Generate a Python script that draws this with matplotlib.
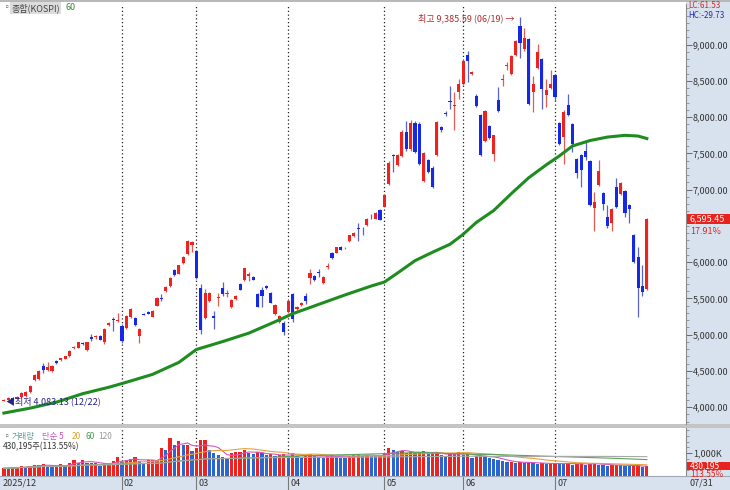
import matplotlib
matplotlib.use("Agg")
import matplotlib.pyplot as plt
from matplotlib.patches import Rectangle
from matplotlib.ticker import FuncFormatter, MultipleLocator, FixedLocator
import numpy as np
import pandas as pd

plt.rcParams['font.family'] = ['Noto Sans CJK KR', 'DejaVu Sans']

# daily candles, 2025/12/22 .. 2026/07/31
opens = [4090, 4105, 4125, 4118, 4135, 4155, 4212, 4372, 4390, 4562, 4507, 4493, 4630, 4644, 4667, 4699,
         4815, 4818, 4890, 4790, 4973, 4963, 4986, 4895, 5127, 5219, 5192,
         5123, 5092, 5237, 5229, 4986, 5288, 5315, 5247, 5397, 5507, 5603, 5671, 5887, 5840, 5991, 6106, 6233,
         6151, 5648, 5229, 5466, 5260, 5507, 5640, 5562, 5384, 5489, 5695, 5750, 5808, 5795, 5558, 5617, 5671,
         5580, 5284, 5169, 5160,
         5306, 5562, 5360, 5411, 5534, 5777, 5808, 5860, 5716, 5935, 6128, 6128, 6210, 6190, 6288, 6356, 6466,
         6475, 6517, 6630, 6599, 6722,
         6767, 7073, 7475, 7343, 7470, 7800, 7560, 7920, 7900, 7120, 7407, 7300, 7480, 7860, 8060, 8225, 8150, 8352,
         8457, 8854, 8590, 8298, 8024, 7672, 7877, 7498, 8243, 8515, 8700, 8595, 8854, 9265, 8936, 9073, 8343,
         8685, 8800, 8306, 8398,
         8580, 7918, 7726, 8170, 7910, 7429, 7475, 7530, 7393, 6750, 7069, 6950, 6630, 6539, 7041, 6936, 6982,
         6791, 6380, 6069, 5671, 5626]
highs = [4115, 4135, 4145, 4150, 4205, 4220, 4300, 4450, 4515, 4603, 4620, 4575, 4645, 4680, 4712, 4790,
         4845, 4905, 4900, 4905, 5014, 5000, 4995, 5085, 5175, 5237, 5305,
         5150, 5275, 5370, 5240, 5090, 5300, 5325, 5340, 5515, 5562, 5670, 5795, 5900, 5965, 6080, 6311, 6297,
         6165, 5699, 5630, 5595, 5329, 5580, 5730, 5617, 5490, 5545, 5710, 5925, 5867, 5805, 5570, 5658, 5680,
         5590, 5420, 5270, 5190,
         5480, 5580, 5400, 5455, 5580, 5905, 5820, 5905, 5805, 5987, 6140, 6215, 6225, 6215, 6380, 6415, 6539,
         6490, 6610, 6670, 6690, 6735,
         6940, 7390, 7498, 7495, 7820, 7950, 7960, 7950, 7930, 7520, 7430, 7320, 7950, 7880, 8080, 8435, 8343, 8525,
         8790, 8914, 8640, 8315, 8040, 8095, 7890, 7760, 8410, 8595, 8755, 8860, 9065, 9385.59, 9230, 9095, 8572,
         9005, 8815, 8525, 8645,
         8600, 7930, 8095, 8320, 7925, 7440, 7490, 7667, 7405, 6963, 7407, 6965, 6791, 6750, 7155, 7100, 6995,
         6805, 6395, 6206, 5959, 6605]
lows = [4083.13, 4095, 4105, 4110, 4125, 4145, 4200, 4360, 4380, 4466, 4495, 4485, 4595, 4635, 4660, 4690,
        4805, 4810, 4860, 4780, 4918, 4945, 4925, 4877, 5120, 5055, 5180,
        4890, 5080, 5225, 5125, 4880, 5265, 5280, 5240, 5390, 5466, 5595, 5660, 5810, 5830, 5980, 6095, 6141,
        5770, 5014, 5215, 5455, 5082, 5397, 5534, 5521, 5370, 5480, 5610, 5740, 5740, 5750, 5375, 5384, 5630,
        5435, 5275, 5160, 5000,
        5295, 5180, 5345, 5400, 5425, 5700, 5745, 5795, 5705, 5905, 6045, 6120, 6165, 6180, 6280, 6345, 6288,
        6375, 6505, 6590, 6590, 6575,
        6755, 7060, 7247, 7330, 7450, 7540, 7540, 7500, 7340, 7100, 7230, 7020, 7460, 7800, 8020, 8115, 7818, 8250,
        8445, 8480, 8580, 8135, 7465, 7660, 7700, 7390, 8070, 8435, 8645, 8580, 8840, 8822, 8920, 8165, 8069,
        8670, 8115, 8137, 8385,
        8230, 7620, 7360, 8010, 7520, 7155, 7041, 7407, 6775, 6425, 7055, 6726, 6470, 6425, 6750, 6920, 6630,
        6539, 5990, 5237, 5534, 5610]
closes = [4100, 4125, 4118, 4140, 4195, 4210, 4292, 4438, 4505, 4507, 4552, 4562, 4603, 4671, 4703, 4781,
          4836, 4895, 4870, 4895, 4936, 4986, 4932, 5078, 5164, 5205, 5205,
          4918, 5260, 5356, 5137, 5078, 5274, 5288, 5329, 5503, 5486, 5658, 5785, 5822, 5955, 6069, 6288, 6278,
          5785, 5064, 5580, 5580, 5229, 5521, 5566, 5576, 5476, 5534, 5621, 5914, 5840, 5758, 5384, 5534, 5640,
          5443, 5411, 5260, 5030,
          5466, 5220, 5385, 5443, 5466, 5854, 5758, 5850, 5795, 5950, 6059, 6206, 6174, 6200, 6370, 6402, 6455,
          6465, 6599, 6617, 6676, 6585,
          6928, 7374, 7466, 7480, 7800, 7560, 7920, 7520, 7360, 7500, 7247, 7040, 7932, 7830, 8040, 8205, 8165, 8457,
          8777, 8777, 8620, 8150, 7480, 8083, 7713, 7750, 8083, 8530, 8715, 8845, 9050, 9028, 9096, 8183, 8457,
          8900, 8388, 8380, 8457,
          8275, 7635, 8078, 8024, 7635, 7224, 7270, 7452, 6791, 6836, 7256, 6799, 6493, 6736, 6767, 7087, 6676,
          6736, 6004, 5648, 5593.6, 6595.45]

# volume, thousand shares
volumes = [335, 335, 378, 378, 435, 378, 435, 478, 478, 522, 435, 378, 435, 522, 478, 550,
           696, 580, 696, 580, 580, 580, 435, 550, 550, 667, 812,
           623, 696, 725, 840, 667, 580, 696, 696, 696, 1203, 1130, 1638, 1348, 1522, 1348, 1348, 1101,
           1203, 1565, 1565, 1130, 1014, 913, 812, 768, 986, 1058, 1058, 1130, 1000, 950, 1050, 980, 900,
           940, 870, 900, 960,
           880, 1000, 850, 820, 870, 950, 880, 830, 800, 860, 900, 850, 800, 780, 870, 900, 950,
           880, 930, 870, 850, 880,
           1000, 1200, 1150, 1050, 1100, 1000, 1050, 980, 1050, 1100, 950, 1000, 1050, 900, 880, 950, 1000, 1050,
           900, 950, 800, 850, 900, 850, 800, 750, 700, 650, 600, 600, 580, 620, 560, 600, 560,
           540, 560, 520, 540,
           560, 540, 520, 560, 500, 540, 560, 480, 540, 560, 500, 480, 440, 470, 500, 480, 440,
           420, 450, 470, 378.86, 430.195]

# 60-day moving average of the index, read at sample days
ma60_day = [0, 6, 12, 18, 24, 28, 34, 40, 44, 50, 56, 62, 66, 72, 78, 84, 87, 90, 94, 98, 102, 105, 108,
            112, 116, 120, 124, 127, 130, 134, 138, 142, 145, 147]
ma60_val = [3918, 3986, 4068, 4185, 4274, 4343, 4452, 4617, 4795, 4904, 5021, 5178, 5288, 5418, 5548, 5671,
            5726, 5850, 6021, 6137, 6247, 6384, 6548, 6713, 6945, 7165, 7343, 7466, 7603, 7678, 7726, 7750,
            7740, 7706]

price_ticks = [4000, 4500, 5000, 5500, 6000, 7000, 7500, 8000, 8500, 9000]
month_labels = ['2025/12', '02', '03', '04', '05', '06', '07']
month_start = [0, 27, 44, 65, 87, 105, 126]

W, H = 730, 490
RED = '#ee2320'
BLUE = '#1428e6'
STRIP = '#d8e2ef'
LABEL_RED = '#e8221c'


def fx(p):
    return p / W


def fy(p):
    return 1 - p / H


def back(x0, y0, w, h, color, z=-1):
    fig.patches.append(Rectangle((fx(x0), fy(y0 + h)), fx(w), h / H, transform=fig.transFigure,
                                 facecolor=color, edgecolor='none', zorder=z))


fig = plt.figure(figsize=(W / 100, H / 100), dpi=100)
back(686, 0, 44, 490, STRIP)
back(0, 476, 686, 14, STRIP)
back(0, 424, 730, 4, '#c4c4c4')
back(0, 0, 730, 2, '#b8b8b8')

ax = fig.add_axes([fx(1), fy(424), fx(685), 420 / H])
axv = fig.add_axes([fx(1), fy(476), fx(685), 48 / H], sharex=ax)

o = np.array(opens)
hi = np.array(highs)
lo = np.array(lows)
c = np.array(closes)
x = np.arange(len(c))
up = c >= o
cols = np.where(up, RED, BLUE)
wick_cols = np.where(up, '#e65a55', '#5a64c8')

ax.vlines(x, lo, hi, colors=wick_cols, linewidth=0.9, zorder=2)
body_h = np.maximum(np.abs(c - o), 12)
ax.bar(x, body_h, bottom=np.minimum(o, c), width=0.72, color=cols, linewidth=0, zorder=3)
ax.plot(ma60_day, ma60_val, color='#1e8c1e', linewidth=2.2, zorder=4, solid_joinstyle='round')

for m in month_start[1:]:
    ax.axvline(m, color='#222222', linestyle=(0, (1, 2)), linewidth=0.9, zorder=1)
    axv.axvline(m, color='#222222', linestyle=(0, (1, 2)), linewidth=0.9, zorder=1)

ax.set_xlim(-0.66, 155.95)
ax.set_ylim(3767, 9562)
ax.yaxis.tick_right()
ax.yaxis.set_major_locator(FixedLocator(price_ticks))
ax.yaxis.set_minor_locator(MultipleLocator(100))
ax.yaxis.set_major_formatter(FuncFormatter(lambda v, p: f'{v:,.2f}'))
ax.tick_params(axis='y', which='major', direction='out', length=4, width=0.6, color='#555555',
               labelsize=6.5, labelcolor='#333333', pad=1)
ax.tick_params(axis='y', which='minor', direction='out', length=2, width=0.5, color='#777777')
ax.tick_params(axis='x', which='both', bottom=False, labelbottom=False)
for s in ['top', 'bottom', 'left']:
    ax.spines[s].set_visible(False)
ax.spines['right'].set_color('#8a8a8a')
ax.spines['right'].set_linewidth(0.8)

# highest / lowest marks
ih = int(np.argmax(hi))
il = int(np.argmin(lo))
ax.text(ih - 1.2, hi[ih] - 20, f'최고 {hi[ih]:,.2f} (06/19) →', color='#b02a2a', fontsize=6.5,
        ha='right', va='center', zorder=5)
ax.text(il + 0.4, lo[il], f'◀최저 {lo[il]:,.2f} (12/22)', color='#24248c', fontsize=6.5,
        ha='left', va='center', zorder=5)

# volume panel
v = np.array(volumes)
vcols = [RED] + [RED if v[i] >= v[i - 1] else '#2a66d2' for i in range(1, len(v))]
axv.bar(x, v, width=0.75, color=vcols, linewidth=0, zorder=2)
vs = pd.Series(v)
for n, col in [(5, '#d455c8'), (20, '#e3a43a'), (60, '#5aa35a'), (120, '#a8a8a8')]:
    axv.plot(x, vs.rolling(n, min_periods=1).mean(), color=col, linewidth=0.8, zorder=3)
axv.set_ylim(0, 2087)
axv.yaxis.tick_right()
axv.set_yticks([1000])
axv.set_yticklabels(['1,000K'])
axv.yaxis.set_minor_locator(MultipleLocator(250))
axv.tick_params(axis='y', which='major', direction='out', length=4, width=0.6, color='#555555',
                labelsize=6.5, labelcolor='#333333', pad=1)
axv.tick_params(axis='y', which='minor', direction='out', length=2, width=0.5, color='#777777')
axv.tick_params(axis='x', which='both', bottom=False, labelbottom=False)
for s in ['top', 'bottom', 'left']:
    axv.spines[s].set_visible(False)
axv.spines['right'].set_color('#8a8a8a')
axv.spines['right'].set_linewidth(0.8)

# date band
for lab, m in zip(month_labels, month_start):
    px = 3.9 + 4.374 * m
    if m > 0:
        fig.add_artist(plt.Line2D([fx(px), fx(px)], [0, 14 / H], color='#7a7a7a', linewidth=0.8))
        fig.text(fx(px + 2), fy(483), lab, fontsize=6.5, color='#333333', va='center')
    else:
        fig.text(fx(3), fy(483), lab, fontsize=6.5, color='#333333', va='center')
fig.add_artist(plt.Line2D([0, 1], [14 / H, 14 / H], color='#a0a8b4', linewidth=0.8))
fig.text(fx(690), fy(483), '07/31', fontsize=6.5, color='#333333', va='center')

# headers
fig.text(fx(3), fy(8), '▫', fontsize=6, color='#777777', va='center')
fig.text(fx(11), fy(8), '종합(KOSPI)', fontsize=6.5, color='#444444', va='center',
         bbox=dict(boxstyle='square,pad=0.15', fc='#dcdcdc', ec='none'))
fig.text(fx(65), fy(8), '60', fontsize=6.5, color='#3a8a3a', va='center')

fig.text(fx(3), fy(436), '▫', fontsize=6, color='#777777', va='center')
for t, col, px in [('거래량', '#5f9ea0', 12), ('단순 5', '#c653bf', 42), ('20', '#d6a32e', 72),
                   ('60', '#4a9a4a', 85), ('120', '#9a9a9a', 98)]:
    fig.text(fx(px), fy(436), t, fontsize=6, color=col, va='center')
fig.text(fx(3), fy(447), f'{v[-1] * 1000:,.0f}주({v[-1] / v[-2] * 100:.2f}%)', fontsize=6,
         color='#333333', va='center')

# right strip labels
lc = (c[-1] / lo.min() - 1) * 100
hc = (c[-1] / hi.max() - 1) * 100
fig.text(fx(688), fy(5), f'LC:{lc:.2f}', fontsize=5.8, color='#d02828', va='center')
fig.text(fx(688), fy(15), f'HC:{hc:.2f}', fontsize=5.8, color='#2828b8', va='center')

yl = ax.transData.transform((0, c[-1]))[1]
fig.patches.append(Rectangle((fx(687), yl / H - 5 / H), fx(43), 10 / H, transform=fig.transFigure,
                             facecolor=LABEL_RED, edgecolor='none', zorder=1))
fig.text(fx(690), yl / H, f'{c[-1]:,.2f}', fontsize=6.5, color='white', va='center', zorder=3)
fig.text(fx(690), yl / H - 12 / H, f'{(c[-1] / c[-2] - 1) * 100:.2f}%', fontsize=6.5, color=LABEL_RED,
         va='center', zorder=3)

yv = axv.transData.transform((0, v[-1]))[1]
fig.patches.append(Rectangle((fx(687), yv / H - 4 / H), fx(43), 8 / H, transform=fig.transFigure,
                             facecolor=LABEL_RED, edgecolor='none', zorder=1))
fig.text(fx(690), yv / H, f'{v[-1] * 1000:,.0f}', fontsize=6, color='white', va='center', zorder=3)
fig.text(fx(690), yv / H - 8.5 / H, f'{v[-1] / v[-2] * 100:.2f}%', fontsize=6, color=LABEL_RED,
         va='center', zorder=3)

fig.savefig('out.png', dpi=100)
